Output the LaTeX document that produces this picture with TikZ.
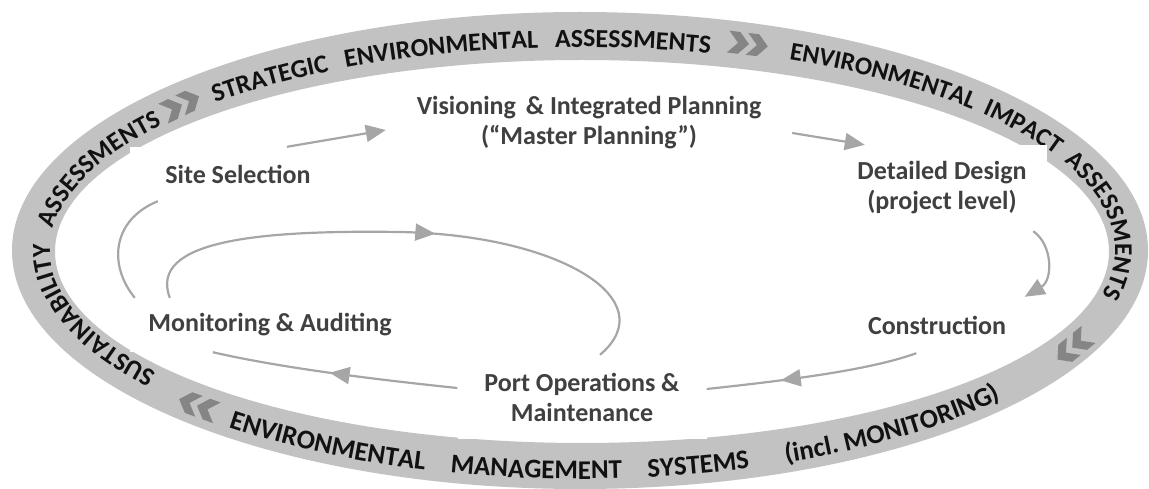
\documentclass[tikz,border=0pt]{standalone}
\usepackage{fontspec}
\setmainfont{Carlito}
\usetikzlibrary{decorations.text,decorations.markings,arrows.meta,calc}
\definecolor{ringgrey}{HTML}{C2C2C2}
\definecolor{chevgrey}{HTML}{858585}
\definecolor{flowgrey}{HTML}{A6A6A6}
\definecolor{labelgrey}{HTML}{404040}
\definecolor{ringtext}{HTML}{111111}
\newcommand\rtopfont{\fontsize{26}{26}\selectfont\bfseries}
\newcommand\rsidefont{\fontsize{25.5}{26}\selectfont\bfseries}
\newcommand\rbotfont{\fontsize{27}{27}\selectfont\bfseries}
\newcommand\rinclfont{\fontsize{27}{27}\selectfont\bfseries}
\begin{document}
\begin{tikzpicture}[x=1pt,y=-1pt,
  lbl/.style={fill=white, text=labelgrey, font=\fontsize{26}{30}\selectfont\bfseries, align=center, inner sep=0pt},
  flow/.style={draw=flowgrey, line width=2.2pt},
  endtip/.style={-{Triangle[length=20pt,width=17pt]}},
  midtip/.style={postaction={decorate}, decoration={markings, mark=at position #1 with {\arrow[flowgrey]{Triangle[length=20pt,width=17pt]}}}},
  ringtxt/.style={decorate, decoration={text along path, text={#1}, text align=fit to path stretching spaces, text color=ringtext}},
  ringtxtleft/.style={decorate, decoration={text along path, text={#1}, text align=left, text color=ringtext}},
  chevron/.pic={
    \fill[chevgrey] (-20,-11) -- (-9,-11) -- (1,0) -- (-9,11) -- (-20,11) -- (-10,0) -- cycle;
    \fill[chevgrey] (-1,-11) -- (10,-11) -- (20,0) -- (10,11) -- (-1,11) -- (9,0) -- cycle;
  }]
\useasboundingbox (0,0) rectangle (1149,489);
\coordinate (C) at (580,250);
\coordinate (D) at (580,250);
% ring
\fill[ringgrey, even odd rule] (580,250.5) ellipse [x radius=568, y radius=238.5]
  (582,251.5) ellipse [x radius=527, y radius=191.5];
% ring texts
\path[ringtxt={|\rtopfont|SUSTAINABILITY ASSESSMENTS}]
  ($(C)+(143:530 and 203)$) arc[start angle=143, end angle=218, x radius=530, y radius=203];
\path[ringtxt={|\rtopfont|STRATEGIC ENVIRONMENTAL ASSESSMENTS}]
  ($(C)+(226.5:530 and 203)$) arc[start angle=226.5, end angle=284.2, x radius=530, y radius=203];
\path[ringtxt={|\rsidefont|ENVIRONMENTAL IMPACT ASSESSMENTS}]
  ($(C)+(293:535 and 207)$) arc[start angle=293, end angle=372.5, x radius=535, y radius=207];
\path[ringtxt={|\rbotfont|ENVIRONMENTAL MANAGEMENT SYSTEMS}]
  ($(D)+(129.3:555 and 229)$) arc[start angle=129.3, end angle=72.2, x radius=555, y radius=229];
\path[ringtxtleft={|\rinclfont|(incl. MONITORING)}]
  ($(D)+(68.2:555 and 229)$) arc[start angle=68.2, end angle=30, x radius=555, y radius=229];
% chevrons
\pic[rotate=26] at (181,105) {chevron};
\pic[rotate=-7] at (748,44) {chevron};
\pic[rotate=219] at (1073,347) {chevron};
\pic[rotate=160] at (198,406) {chevron};
% labels
\node[lbl, minimum width=216pt, minimum height=54pt] (site) at (238,174) {Site Selection};
\node[lbl, minimum width=406pt, minimum height=74pt] (vision) at (589,123)
  {Visioning\hspace{4pt} \& Integrated Planning\\(“Master Planning”)};
\node[lbl, minimum width=210pt, minimum height=86pt] (detail) at (942,188)
  {Detailed Design\\(project level)};
\node[lbl, minimum width=185pt, minimum height=56pt] (constr) at (937,325) {Construction};
\node[lbl, minimum width=249pt, minimum height=84pt] (port) at (582,397)
  {Port Operations \&\\Maintenance};
\node[lbl, minimum width=280pt, minimum height=54pt] (monitor) at (270,325) {Monitoring \& Auditing};
% connectors
\draw[flow, endtip] ($(site.north)+(49,0)$) -- ($(vision.west)+(0,7)$);
\draw[flow, endtip] ($(vision.east)+(0,10)$) -- ($(detail.north west)+(28,0)$);
\draw[flow, endtip] ($(detail.south east)+(-14,0)$) .. controls (1053,245) and (1053,280) .. ($(constr.north east)+(-5,0)$);
\draw[flow, midtip=0.65] ($(constr.south west)+(72,0)$) .. controls (870,370) and (790,380) .. ($(port.east)+(0,-8)$);
\draw[flow, midtip=0.52] ($(port.west)+(0,-9)$) .. controls (400,382) and (290,370) .. ($(monitor.south west)+(83,0)$);
\draw[flow, midtip=0.54] ($(monitor.north west)+(40,0)$) .. controls (148,240) and (260,230) .. (400,232)
  .. controls (560,235) and (665,300) .. ($(port.north)+(18,0)$);
\draw[flow] ($(monitor.north west)+(5,0)$) .. controls (108,265) and (112,220) .. ($(site.south west)+(28,0)$);
\end{tikzpicture}
\end{document}
